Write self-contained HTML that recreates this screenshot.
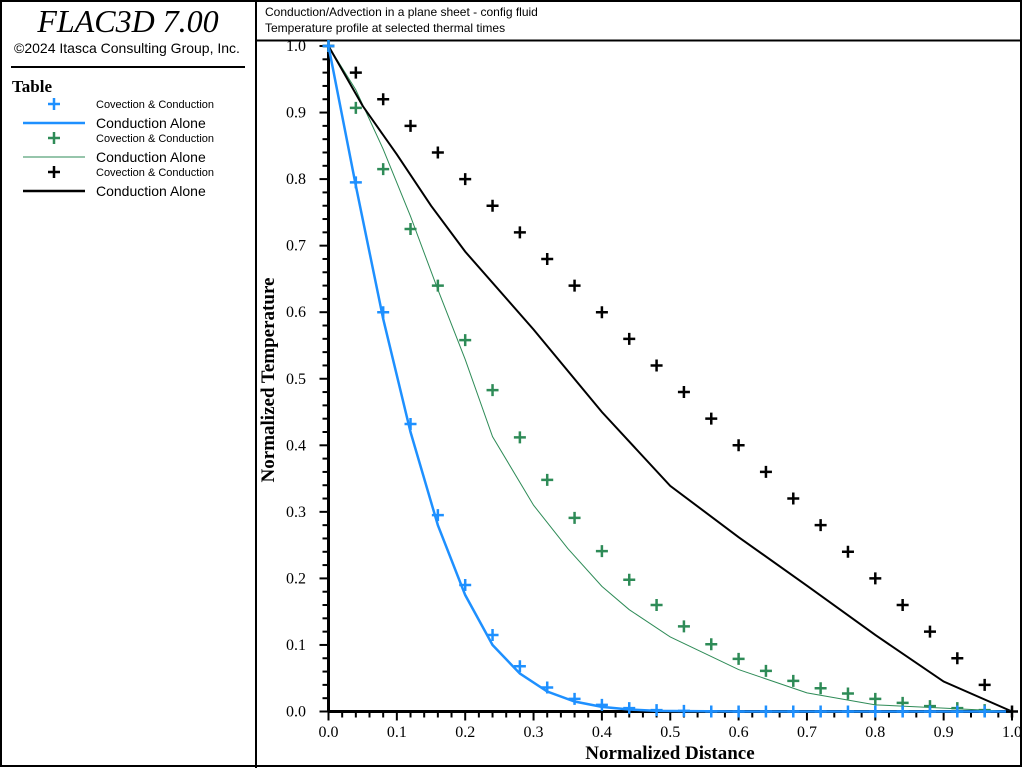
<!DOCTYPE html>
<html><head><meta charset="utf-8"><style>
body{margin:0;background:#fff;}
svg{display:block;}
.sans{font-family:"Liberation Sans",sans-serif;}
.serif{font-family:"Liberation Serif",serif;}
</style></head><body>
<svg id="chart" width="1024" height="768" viewBox="0 0 1024 768" xmlns="http://www.w3.org/2000/svg">
<rect x="1" y="1" width="1020" height="765" fill="#fff" stroke="#000" stroke-width="2"/>
<line x1="256" y1="0" x2="256" y2="768" stroke="#000" stroke-width="2"/>
<line x1="256" y1="40.5" x2="1022" y2="40.5" stroke="#000" stroke-width="2"/>
<text x="128" y="32" text-anchor="middle" class="serif" font-size="32" font-style="italic">FLAC3D 7.00</text>
<text x="127" y="53" text-anchor="middle" class="sans" font-size="14">©2024 Itasca Consulting Group, Inc.</text>
<line x1="11" y1="67" x2="245" y2="67" stroke="#000" stroke-width="2"/>
<text x="12" y="92" class="serif" font-size="17" font-weight="bold">Table</text>
<g id="legend"></g>
<text x="265" y="16" class="sans" font-size="12">Conduction/Advection in a plane sheet - config fluid</text>
<text x="265" y="32" class="sans" font-size="12">Temperature profile at selected thermal times</text>
<g id="axes"></g>
<g id="series"></g>
<text x="670" y="759" text-anchor="middle" class="serif" font-size="19" font-weight="bold">Normalized Distance</text>
<text transform="translate(274,380) rotate(-90)" text-anchor="middle" class="serif" font-size="19" font-weight="bold">Normalized Temperature</text>
</svg>
<script>
const xTicks=[0,0.1,0.2,0.3,0.4,0.5,0.6,0.7,0.8,0.9,1.0];
const yTicks=[0,0.1,0.2,0.3,0.4,0.5,0.6,0.7,0.8,0.9,1.0];
const crossX=[0,0.04,0.08,0.12,0.16,0.2,0.24,0.28,0.32,0.36,0.4,0.44,0.48,0.52,0.56,0.6,0.64,0.68,0.72,0.76,0.8,0.84,0.88,0.92,0.96];
const blueCross=[1.0,0.795,0.6,0.432,0.295,0.19,0.115,0.068,0.036,0.019,0.01,0.005,0.002,0.001,0,0,0,0,0,0,0,0,0,0,0];
const greenCross=[1.0,0.907,0.815,0.725,0.64,0.558,0.483,0.412,0.348,0.291,0.241,0.198,0.16,0.128,0.101,0.079,0.061,0.046,0.035,0.027,0.019,0.013,0.008,0.005,0.002];
const blackCrossX=[0,0.04,0.08,0.12,0.16,0.2,0.24,0.28,0.32,0.36,0.4,0.44,0.48,0.52,0.56,0.6,0.64,0.68,0.72,0.76,0.8,0.84,0.88,0.92,0.96,1.0];
const blackCross=[1.0,0.96,0.92,0.88,0.84,0.8,0.76,0.72,0.68,0.64,0.6,0.56,0.52,0.48,0.44,0.4,0.36,0.32,0.28,0.24,0.2,0.16,0.12,0.08,0.04,0];
const blueLineX=[0,0.04,0.08,0.12,0.16,0.2,0.24,0.28,0.32,0.36,0.4,0.44,0.48,0.6,1.0];
const blueLine=[1.0,0.79,0.59,0.42,0.28,0.175,0.1,0.057,0.03,0.015,0.007,0.003,0.001,0,0];
const greenLineX=[0,0.04,0.08,0.12,0.16,0.2,0.24,0.3,0.35,0.4,0.44,0.5,0.6,0.7,0.8,0.9,1.0];
const greenLine=[1.0,0.934,0.845,0.744,0.634,0.529,0.413,0.31,0.245,0.188,0.153,0.112,0.063,0.028,0.01,0.005,0];
const blackLineX=[0,0.05,0.1,0.15,0.2,0.3,0.4,0.5,0.6,0.7,0.8,0.9,1.0];
const blackLine=[1.0,0.91,0.837,0.76,0.691,0.574,0.45,0.339,0.262,0.189,0.115,0.045,0];

const NS='http://www.w3.org/2000/svg';
const X0=328.5,X1=1012,Y0=711.5,Y1=46;
const sx=v=>X0+(X1-X0)*v;
const sy=v=>Y0-(Y0-Y1)*v;
function mk(tag,attrs,parent){const e=document.createElementNS(NS,tag);for(const k in attrs)e.setAttribute(k,attrs[k]);parent.appendChild(e);return e;}
const axes=document.getElementById('axes');
const ser=document.getElementById('series');
const leg=document.getElementById('legend');

let e=mk('line',{x1:X0,y1:Y1,x2:X0,y2:Y0+1,stroke:'#000','stroke-width':3},axes);


e=mk('line',{x1:X0-1,y1:Y0,x2:X1+1,y2:Y0,stroke:'#000','stroke-width':3},axes);


for(let i=0;i<=50;i++){
  const v=i/50, major=i%5===0;
  let t=mk('line',{x1:sx(v),y1:Y0,x2:sx(v),y2:Y0+(major?9:6),stroke:'#000','stroke-width':2},axes);
  
  
  t=mk('line',{x1:X0,y1:sy(v),x2:X0-(major?9:6),y2:sy(v),stroke:'#000','stroke-width':2},axes);
  
  
}
xTicks.forEach(v=>{
  const t=mk('text',{x:sx(v),y:737,'text-anchor':'middle','font-size':16,class:'serif'},axes);
  t.textContent=v.toFixed(1);
  
  
});
yTicks.forEach(v=>{
  const t=mk('text',{x:306,y:sy(v)+5,'text-anchor':'end','font-size':16,class:'serif'},axes);
  t.textContent=v.toFixed(1);
  
  
});
function line(xs,ys,color,w,name){
  const p=mk('polyline',{points:xs.map((x,i)=>sx(x)+','+sy(ys[i])).join(' '),fill:'none',stroke:color,'stroke-width':w},ser);
  
  
}
function crosses(xs,ys,color,name){
  const g=mk('g',{},ser);
  
  
  xs.forEach((x,i)=>{
    const cx=sx(x),cy=sy(ys[i]);
    const p=mk('path',{d:`M${cx-6} ${cy}H${cx+6}M${cx} ${cy-6}V${cy+6}`,stroke:color,'stroke-width':2.5,fill:'none'},g);
    
    
  });
}
line(greenLineX,greenLine,'#2e8b57',1,'green-conduction-line');
line(blackLineX,blackLine,'#000',2,'black-conduction-line');
line(blueLineX,blueLine,'#1e90ff',2.5,'blue-conduction-line');
crosses(blackCrossX,blackCross,'#000','black-convection-crosses');
crosses(crossX,greenCross,'#2e8b57','green-convection-crosses');
crosses(crossX,blueCross,'#1e90ff','blue-convection-crosses');

const legColors=['#1e90ff','#2e8b57','#000'];
const legWidths=[2.5,1,2.5];
legColors.forEach((c,i)=>{
  const y=104+i*34;
  let p=mk('path',{d:`M${54-6} ${y}H${54+6}M54 ${y-6}V${y+6}`,stroke:c,'stroke-width':2.5},leg);
  
  
  let t=mk('text',{x:96,y:y+4,'font-size':11,class:'sans'},leg);
  t.textContent='Covection & Conduction';
  
  
  p=mk('line',{x1:23,y1:y+19,x2:85,y2:y+19,stroke:c,'stroke-width':legWidths[i]},leg);
  
  
  t=mk('text',{x:96,y:y+24,'font-size':14,class:'sans'},leg);
  t.textContent='Conduction Alone';
  
  
});
</script>
</body></html>
